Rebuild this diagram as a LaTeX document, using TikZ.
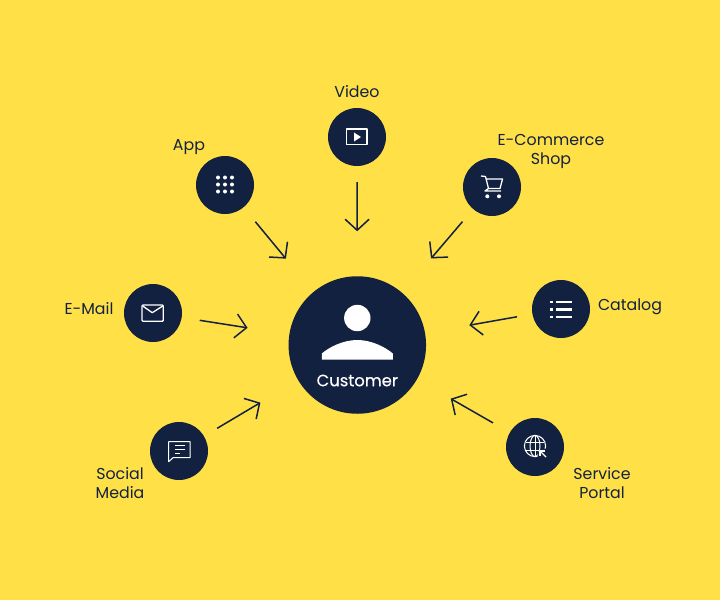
\documentclass[tikz,border=0pt]{standalone}
\usepackage{fontspec}
\setmainfont{Poppins}
\usetikzlibrary{arrows.meta}
\usetikzlibrary{positioning}
\definecolor{bgyellow}{HTML}{FFE046}
\definecolor{navy}{HTML}{12213F}
\newcommand{\labelfont}{\fontsize{15.8}{19}\selectfont}
\newcommand{\hubfont}{\fontsize{16.4}{19}\selectfont\addfontfeature{FakeBold=0.4}}

\begin{document}
\begin{tikzpicture}[x=1pt,y=-1pt,on grid,>={Straight Barb[length=11pt,width=24pt,line width=1.5pt]},
		channel/.style={circle,fill=navy,draw=none,inner sep=0pt,outer sep=0pt,minimum size=58pt},
		hub/.style={circle,fill=navy,draw=none,inner sep=0pt,outer sep=0pt,minimum size=137.5pt},
		caption/.style={text=navy,align=center,inner sep=0pt,font=\labelfont},
		flow/.style 2 args={->,navy,line width=1.5pt,shorten <=#1pt,shorten >=#2pt},
		glyph/.style={draw=white,line width=1.1pt,line join=round},
		solid glyph/.style={fill=white,draw=none}]
		\path[fill=bgyellow] (0,0) rectangle (720,600);
		\useasboundingbox (0,0) rectangle (720,600);
		
		\node[hub]      (customer)              at (357.3,345) {};
		\node[channel]  (video)                 at (357,137) {};
		\node[channel]  (app)                   at (225,185) {};
		\node[channel]  (shop)                  at (492,187) {};
		\node[channel]  (catalog)               at (561,309) {};
		\node[channel]  (portal)                at (535,447) {};
		\node[channel]  (social)                at (179,451) {};
		\node[channel]  (mail)                  at (153,313) {};
		
		\node[caption]  (videoName)   [above=45.5pt of video]     {Video};
		\node[caption]  (appName)     [above left=38pt and 36pt of app] {App};
		\node[caption]  (shopName)    [above right=35.5pt and 59pt of shop] {E-Commerce\\Shop};
		\node[caption]  (catalogName) [right=69pt of catalog, yshift=2pt] {Catalog};
		\node[caption]  (portalName)  [below right=36pt and 67pt of portal] {Service\\Portal};
		\node[caption]  (socialName)  [below left=32pt and 59pt of social] {Social\\Media};
		\node[caption]  (mailName)    [left=64pt of mail, yshift=4pt] {E-Mail};
		\node[caption,text=white,font=\hubfont] (customerName) [below=35.5pt of customer] {Customer};
		
		\path
		(video) edge[flow={16}{45}] (customer)
		(app) edge[flow={18.6}{43.3}] (customer)
		(shop) edge[flow={16.5}{45}] (customer)
		(catalog) edge[flow={15.6}{45}] (customer)
		(portal) edge[flow={19.4}{39}] (customer)
		(social) edge[flow={15.4}{44}] (customer)
		(mail) edge[flow={18.3}{42.3}] (customer);
		
		% person
		\begin{scope}[shift={(customer)}]
		\fill[solid glyph] (0,-27) circle (13.2);
		\fill[solid glyph] (-35.5,14.5) -- (-35.5,8.5) .. controls (-28,2) and (-14,-5) .. (0,-5)
			.. controls (14,-5) and (28,2) .. (35.5,8.5) -- (35.5,14.5) -- cycle;
		\end{scope}
		
		% play
		\begin{scope}[shift={(video)}]
		\draw[glyph] (-10.5,-8) rectangle (10,7.5);
		\fill[solid glyph] (-3,-4.5) -- (4,0) -- (-3,4.5) -- cycle;
		\end{scope}
		
		% dots
		\begin{scope}[shift={(app)}]
		\foreach \dx in {-7,0,7}
		\foreach \dy in {-7.5,-0.5,6.5}
		\fill[solid glyph] (\dx,\dy) circle (2);
		\end{scope}
		
		% cart
		\begin{scope}[shift={(shop)}]
		\draw[glyph,line width=1.3pt] (-11,-11) -- (-6.5,-10.5) -- (-3.5,1.5) -- (8,1.5) -- (10.5,-8) -- (-6,-8);
		\draw[glyph,line width=1.3pt] (-3.5,1.5) -- (-7,4) -- (9,4);
		\fill[solid glyph] (-4.7,9.3) circle (2);
		\fill[solid glyph] (7,9.3) circle (2);
		\end{scope}
		
		% list
		\begin{scope}[shift={(catalog)}]
		\foreach \dy in {-7,0.3,8} {
			\fill[solid glyph] (-10.7,\dy-1.4) rectangle (-7.7,\dy+1.4);
			\fill[solid glyph] (-5.3,\dy-1.4) rectangle (11.3,\dy+1.4);
		}
		\end{scope}
		
		% globe
		\begin{scope}[shift={(portal)}]
		\draw[glyph,line width=1pt] (0,-1) circle (10.6);
		\draw[glyph,line width=1pt] (0,-1) ellipse (5 and 10.6);
		\draw[glyph,line width=1pt] (0,-11.6) -- (0,9.6);
		\draw[glyph,line width=1pt] (-9.3,-5) -- (9.3,-5);
		\draw[glyph,line width=1pt] (-9.3,3) -- (9.3,3);
		\fill[navy] (9,8) circle (6.5);
		\draw[glyph,line width=1.4pt] (5,9) -- (5,4) -- (10,4);
		\draw[glyph,line width=1.4pt] (5,4) -- (11,10);
		\end{scope}
		
		% bubble
		\begin{scope}[shift={(social)}]
		\draw[glyph,line width=1pt] (-10.3,10.7) -- (-10.3,-9.3) -- (11,-9.3) -- (11,6.7) -- (-6,6.7) -- cycle;
		\draw[glyph,line width=1pt] (-4,-6) -- (6,-6);
		\draw[glyph,line width=1pt] (-4,-2) -- (6,-2);
		\draw[glyph,line width=1pt] (-4,2) -- (1,2);
		\end{scope}
		
		% envelope
		\begin{scope}[shift={(mail)}]
		\draw[glyph,line width=1.3pt,rounded corners=1pt] (-11,-8) rectangle (10.3,8.3);
		\draw[glyph,line width=1.3pt] (-10.3,-7) -- (-0.7,-0.3) -- (9.7,-7);
		\end{scope}
		\end{tikzpicture}
\end{document}
